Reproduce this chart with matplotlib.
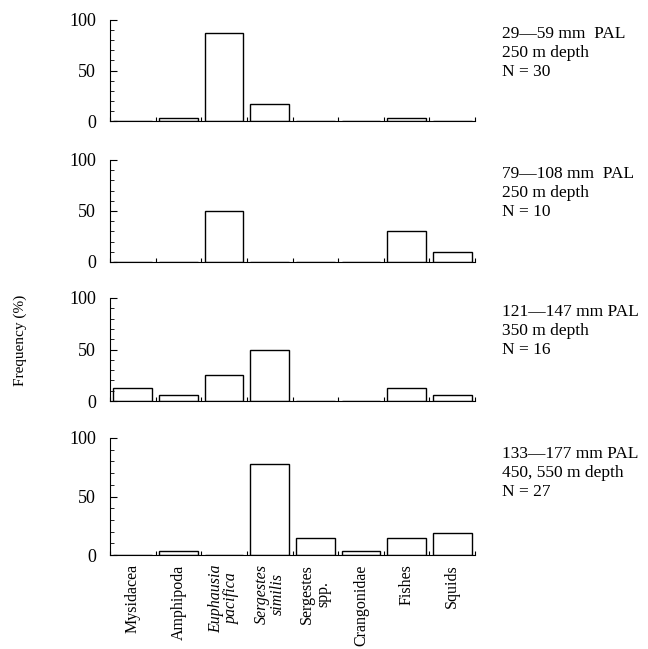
import numpy as np
import matplotlib.pyplot as plt
from matplotlib.ticker import MultipleLocator

plt.rcParams['font.family'] = ['Liberation Serif', 'DejaVu Serif']

categories = ["Mysidacea", "Amphipoda", "Euphausia\npacifica", "Sergestes\nsimilis",
              "Sergestes\nspp.", "Crangonidae", "Fishes", "Squids"]
italic_cats = [False, False, True, True, False, False, False, False]

freq_29_59 = [0, 3.3, 86.7, 16.7, 0, 0, 3.3, 0]
freq_79_108 = [0, 0, 50, 0, 0, 0, 30, 10]
freq_121_147 = [12.5, 6.25, 25, 50, 0, 0, 12.5, 6.25]
freq_133_177 = [0, 3.7, 0, 77.8, 14.8, 3.7, 14.8, 18.5]

labels = [
    "29\u201459 mm  PAL\n250 m depth\nN = 30",
    "79\u2014108 mm  PAL\n250 m depth\nN = 10",
    "121\u2014147 mm PAL\n350 m depth\nN = 16",
    "133\u2014177 mm PAL\n450, 550 m depth\nN = 27",
]
series = [freq_29_59, freq_79_108, freq_121_147, freq_133_177]

W, H = 648, 649
# axes boxes in pixels: (top, bottom)
boxes = [(20, 121), (160, 262), (298, 401), (438, 555)]
left, right = 110, 475
label_tops = [26, 166, 304, 446]

fig = plt.figure(figsize=(W / 100, H / 100), dpi=100)
x = np.arange(len(categories))

for i, (vals, lab) in enumerate(zip(series, labels)):
    top, bot = boxes[i]
    ax = fig.add_axes([left / W, 1 - bot / H, (right - left) / W, (bot - top) / H])
    ax.bar(x, vals, width=0.85, color="white", edgecolor="black", linewidth=1.0)
    ax.set_xlim(-0.5, len(categories) - 0.5)
    ax.set_ylim(0, 100)
    ax.spines["top"].set_visible(False)
    ax.spines["right"].set_visible(False)
    ax.yaxis.set_major_locator(MultipleLocator(50))
    ax.yaxis.set_minor_locator(MultipleLocator(10))
    ax.tick_params(axis="y", which="major", direction="in", length=5, labelsize=13, pad=10)
    ax.tick_params(axis="y", which="minor", direction="in", length=3)
    ax.set_xticks(np.arange(len(categories) + 1) - 0.5)
    ax.tick_params(axis="x", direction="in", length=3, labelbottom=False)
    fig.text(502 / W, 1 - label_tops[i] / H, lab, ha="left", va="top",
             fontsize=12.5, linespacing=1.25)

    if i == len(series) - 1:
        for xi, (cat, it) in enumerate(zip(categories, italic_cats)):
            ax.text(xi, -8, cat, rotation=90, ha="center", va="top", fontsize=11.5,
                    style="italic" if it else "normal", linespacing=1.05,
                    transform=ax.transData, clip_on=False)

fig.text(20 / W, 1 - 340 / H, "Frequency (%)", rotation=90, ha="center", va="center",
         fontsize=11)

plt.savefig("out.png", dpi=100)
